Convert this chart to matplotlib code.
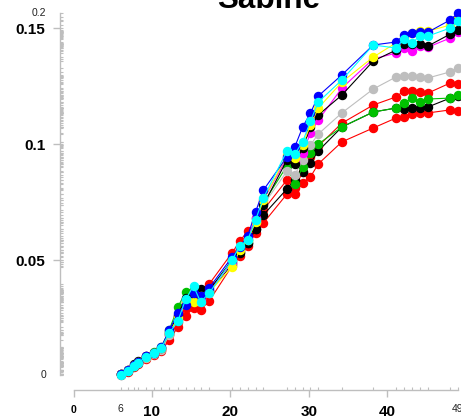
import matplotlib
matplotlib.use("Agg")
from matplotlib import pyplot as plt
from matplotlib import transforms

plt.rcParams['font.family'] = ['Liberation Sans', 'DejaVu Sans']

x = [6, 7, 7.7, 8.2, 9.2, 10.2, 11.2, 12.2, 13.3, 14.3, 15.3, 16.2, 17.3, 20.2, 21.2, 22.2,
     23.2, 24.2, 27.2, 28.2, 29.2, 30.2, 31.2, 34.2, 38.2, 41.1, 42.1, 43.2, 44.1, 45.2, 48, 49]

red2 = [0.0004, 0.0017, 0.0039, 0.0052, 0.0073, 0.0091, 0.0108, 0.0155, 0.0211, 0.0259, 0.0293,
        0.0285, 0.0324, 0.0475, 0.0518, 0.0561, 0.0617, 0.0660, 0.0785, 0.0785, 0.0833, 0.0859,
        0.0915, 0.1010, 0.1070, 0.1113, 0.1117, 0.1130, 0.1135, 0.1135, 0.1148, 0.1143]
red = [0.0009, 0.0022, 0.0043, 0.0056, 0.0078, 0.0095, 0.0112, 0.0177, 0.0233, 0.0293, 0.0371,
       0.0328, 0.0397, 0.0531, 0.0582, 0.0626, 0.0651, 0.0716, 0.0846, 0.0811, 0.0880, 0.0945,
       0.0992, 0.1091, 0.1169, 0.1204, 0.1230, 0.1230, 0.1225, 0.1221, 0.1264, 0.1260]
black2 = [0.0009, 0.0022, 0.0043, 0.0056, 0.0082, 0.0099, 0.0117, 0.0181, 0.0250, 0.0319, 0.0362,
          0.0345, 0.0362, 0.0483, 0.0535, 0.0574, 0.0634, 0.0695, 0.0807, 0.0846, 0.0880, 0.0919,
          0.0971, 0.1074, 0.1139, 0.1156, 0.1152, 0.1156, 0.1156, 0.1161, 0.1199, 0.1208]
green = [0.0009, 0.0026, 0.0043, 0.0060, 0.0086, 0.0104, 0.0125, 0.0198, 0.0298, 0.0362, 0.0371,
         0.0341, 0.0367, 0.0492, 0.0544, 0.0587, 0.0682, 0.0746, 0.0906, 0.0828, 0.0902, 0.0962,
         0.1001, 0.1074, 0.1139, 0.1156, 0.1178, 0.1199, 0.1182, 0.1195, 0.1199, 0.1212]
gray = [0.0009, 0.0022, 0.0043, 0.0056, 0.0078, 0.0095, 0.0112, 0.0177, 0.0242, 0.0319, 0.0362,
        0.0332, 0.0358, 0.0492, 0.0535, 0.0587, 0.0664, 0.0738, 0.0884, 0.0867, 0.0932, 0.0997,
        0.1044, 0.1135, 0.1238, 0.1290, 0.1294, 0.1294, 0.1290, 0.1286, 0.1312, 0.1329]
magenta = [0.0009, 0.0026, 0.0047, 0.0060, 0.0086, 0.0099, 0.0121, 0.0186, 0.0259, 0.0328, 0.0362,
           0.0337, 0.0367, 0.0492, 0.0544, 0.0595, 0.0682, 0.0759, 0.0941, 0.0923, 0.0962, 0.1048,
           0.1104, 0.1242, 0.1368, 0.1393, 0.1415, 0.1402, 0.1424, 0.1419, 0.1458, 0.1484]
black = [0.0009, 0.0026, 0.0052, 0.0065, 0.0086, 0.0099, 0.0121, 0.0190, 0.0263, 0.0337, 0.0354,
         0.0375, 0.0371, 0.0500, 0.0531, 0.0574, 0.0634, 0.0738, 0.0932, 0.0915, 0.0984, 0.1074,
         0.1126, 0.1212, 0.1359, 0.1406, 0.1432, 0.1432, 0.1432, 0.1424, 0.1475, 0.1493]
yellow = [0.0009, 0.0026, 0.0047, 0.0060, 0.0082, 0.0099, 0.0121, 0.0186, 0.0250, 0.0319, 0.0319,
          0.0345, 0.0362, 0.0470, 0.0544, 0.0587, 0.0664, 0.0759, 0.0953, 0.0941, 0.0997, 0.1083,
          0.1156, 0.1268, 0.1376, 0.1437, 0.1462, 0.1480, 0.1488, 0.1488, 0.1514, 0.1549]
blue = [0.0009, 0.0026, 0.0047, 0.0060, 0.0086, 0.0099, 0.0125, 0.0198, 0.0272, 0.0306, 0.0358,
        0.0345, 0.0380, 0.0513, 0.0557, 0.0604, 0.0708, 0.0802, 0.0945, 0.0988, 0.1074, 0.1135,
        0.1208, 0.1299, 0.1428, 0.1441, 0.1471, 0.1480, 0.1484, 0.1484, 0.1536, 0.1566]
cyan = [0.0004, 0.0022, 0.0043, 0.0056, 0.0082, 0.0099, 0.0121, 0.0186, 0.0237, 0.0332, 0.0388,
        0.0319, 0.0358, 0.0500, 0.0561, 0.0587, 0.0673, 0.0768, 0.0971, 0.0958, 0.1010, 0.1100,
        0.1182, 0.1277, 0.1428, 0.1415, 0.1454, 0.1437, 0.1467, 0.1467, 0.1501, 0.1532]

series = [(red2, '#FF0000'), (red, '#FF0000'), (black2, '#000000'), (green, '#00C000'),
          (gray, '#BEBEBE'), (magenta, '#FF00FF'), (black, '#000000'), (yellow, '#FFFF00'),
          (blue, '#0000FF'), (cyan, '#00FFFF')]

W, H = 461, 419
fig = plt.figure(figsize=(W / 100, H / 100), dpi=100)
ax = fig.add_axes([73.5 / W, (H - 376) / H, (458 - 73.5) / W, 366 / H])
ax.set_xlim(0, 49)
ax.set_ylim(0, 0.1579)

for ys, c in series:
    ax.plot(x, ys, color=c, lw=0.8, marker='o', ms=5.8, mec=c, mfc=c, clip_on=False)

all_y = [v for ys, c in series for v in ys]
ymin, ymax = min(all_y), max(all_y)

axis_gray = '#BEBEBE'
for s in ['top', 'right']:
    ax.spines[s].set_visible(False)
ax.spines['left'].set_position(('outward', 13.5 * 0.72))
ax.spines['bottom'].set_position(('outward', 14 * 0.72))
ax.spines['left'].set_bounds(ymin, ymax)
ax.spines['bottom'].set_bounds(0, 49)
for s in ['left', 'bottom']:
    ax.spines[s].set_color(axis_gray)
    ax.spines[s].set_linewidth(1)

ax.set_yticks([0.05, 0.1, 0.15])
ax.set_yticklabels(['0.05', '0.1', '0.15'], fontsize=11, fontweight='bold')
ax.set_xticks([0, 10, 20, 30, 40])
ax.set_xticklabels(['0', '10', '20', '30', '40'], fontsize=11, fontweight='bold')
ax.xaxis.get_ticklabels()[0].set_fontsize(7.5)
ax.tick_params(axis='both', color=axis_gray, length=5, width=1, pad=5.5)

# rugs
ty = transforms.offset_copy(transforms.blended_transform_factory(ax.transAxes, ax.transData),
                            fig=fig, x=-13.5 * 0.72, units='points')
ax.plot([0] * len(all_y), all_y, ls='', marker=1, ms=2.5, mew=0.8, color=axis_gray,
        transform=ty, clip_on=False)
tx = transforms.offset_copy(transforms.blended_transform_factory(ax.transData, ax.transAxes),
                            fig=fig, y=-14 * 0.72, units='points')
ax.plot(x, [0] * len(x), ls='', marker=2, ms=2.5, mew=0.8, color=axis_gray,
        transform=tx, clip_on=False)

small = dict(fontsize=7.5, color='#222222', va='center')
ax.annotate('0.2', xy=(0, ymax), xycoords=('axes fraction', 'data'),
            xytext=(-27.5 * 0.72, 0), textcoords='offset points', ha='right', **small)
ax.annotate('0', xy=(0, ymin), xycoords=('axes fraction', 'data'),
            xytext=(-27.5 * 0.72, 0), textcoords='offset points', ha='right', **small)
ax.annotate('6', xy=(min(x), 0), xycoords=('data', 'axes fraction'),
            xytext=(0, -33 * 0.72), textcoords='offset points', ha='center', **small)
ax.annotate('49', xy=(max(x), 0), xycoords=('data', 'axes fraction'),
            xytext=(0, -33 * 0.72), textcoords='offset points', ha='center', **small)

fig.text(268.5 / W, 1 - 8.3 / H, 'Sabine', ha='center', va='baseline',
         fontsize=22.6, fontweight='bold')

fig.savefig('out.png', dpi=100)
